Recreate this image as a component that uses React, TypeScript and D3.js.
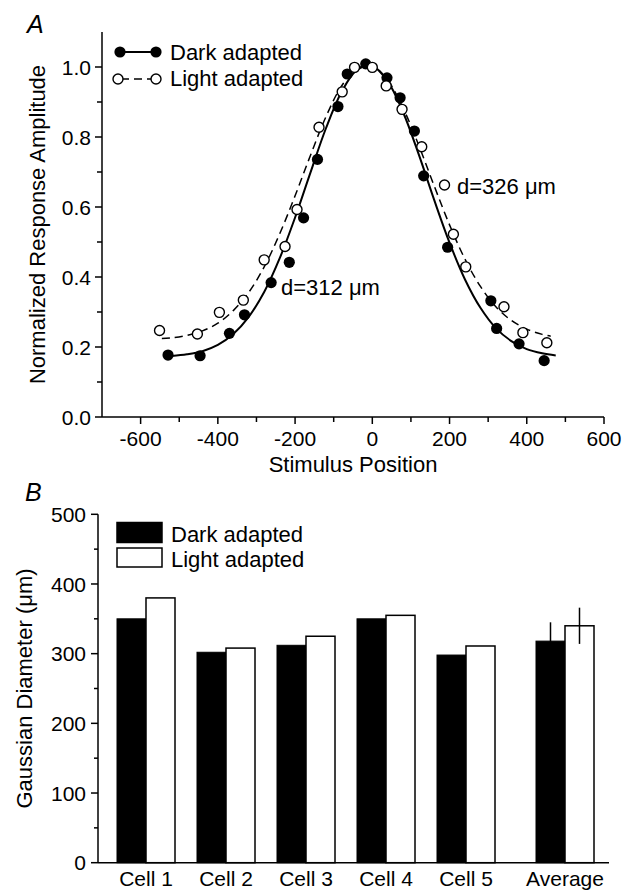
import React from 'react'
import * as d3 from 'd3'

// panel A: measured points
const darkX = [-529, -446, -370, -331, -262, -215, -178, -142, -89, -65, -17, 38, 72, 109, 133, 195, 307, 322, 380, 445]
const darkY = [0.177, 0.175, 0.239, 0.292, 0.384, 0.442, 0.569, 0.736, 0.887, 0.98, 1.009, 0.969, 0.912, 0.817, 0.689, 0.485, 0.332, 0.253, 0.209, 0.161]
const lightX = [-551, -453, -396, -334, -280, -226, -195, -138, -78, -46, 0, 36, 77, 128, 187, 210, 242, 341, 390, 452]
const lightY = [0.247, 0.237, 0.299, 0.334, 0.449, 0.487, 0.593, 0.828, 0.929, 0.999, 0.999, 0.946, 0.879, 0.772, 0.663, 0.522, 0.429, 0.315, 0.241, 0.212]

// panel A: fitted curves
const darkFitX = [-520, -480, -440, -400, -360, -320, -280, -240, -200, -160, -120, -80, -40, 0, 40, 80, 120, 160, 200, 240, 280, 320, 360, 400, 440, 475]
const darkFitY = [0.174, 0.179, 0.188, 0.206, 0.237, 0.286, 0.357, 0.453, 0.57, 0.699, 0.825, 0.928, 0.991, 1.003, 0.959, 0.87, 0.751, 0.621, 0.498, 0.393, 0.312, 0.254, 0.217, 0.194, 0.182, 0.176]
const lightFitX = [-545, -520, -480, -440, -400, -360, -320, -280, -240, -200, -160, -120, -80, -40, 0, 40, 80, 120, 160, 200, 240, 280, 320, 360, 400, 440, 462]
const lightFitY = [0.224, 0.226, 0.233, 0.246, 0.268, 0.304, 0.356, 0.429, 0.523, 0.632, 0.748, 0.858, 0.945, 0.996, 1.002, 0.962, 0.882, 0.777, 0.661, 0.549, 0.451, 0.373, 0.315, 0.276, 0.251, 0.236, 0.231]

const xTicksA = [-600, -400, -200, 0, 200, 400, 600]
const xMinorA = [-500, -300, -100, 100, 300, 500]
const yTicksA = [0, 0.2, 0.4, 0.6, 0.8, 1.0]
const yMinorA = [0.1, 0.3, 0.5, 0.7, 0.9]

// panel B
const cells = ['Cell 1', 'Cell 2', 'Cell 3', 'Cell 4', 'Cell 5', 'Average']
const darkDiam = [350, 302, 312, 350, 298, 318]
const lightDiam = [380, 308, 325, 355, 311, 340]
const darkErr = [0, 0, 0, 0, 0, 27]
const lightErr = [0, 0, 0, 0, 0, 26]
const yTicksB = [0, 100, 200, 300, 400, 500]
const yMinorB = [50, 150, 250, 350, 450]

const W = 633
const H = 891
const font = '"Liberation Sans", Arial, Helvetica, sans-serif'

const xA = d3.scaleLinear().domain([-700, 600]).range([102, 604])
const yA = d3.scaleLinear().domain([0, 1.1]).range([417, 32])

const xB = d3.scaleBand<string>().domain(cells).range([117, 575]).paddingInner(0.275).paddingOuter(0)
const yB = d3.scaleLinear().domain([0, 500]).range([862.7, 514.3])
// the average group sits a little apart from the single cells
const groupShift = (c: string) => (c === 'Average' ? 19 : 0)

const lineA = d3.line<[number, number]>().x(d => xA(d[0])).y(d => yA(d[1])).curve(d3.curveCatmullRom)

export default function App() {
  const darkPts = darkX.map((x, i) => [x, darkY[i]] as [number, number])
  const lightPts = lightX.map((x, i) => [x, lightY[i]] as [number, number])
  const darkFit = darkFitX.map((x, i) => [x, darkFitY[i]] as [number, number])
  const lightFit = lightFitX.map((x, i) => [x, lightFitY[i]] as [number, number])
  const r = 5.6
  const bw = xB.bandwidth() / 2

  return (
    <svg width={W} height={H} style={{ position: 'absolute', left: 0, top: 0, background: '#fff' }} fontFamily={font}>
      {/* ---------- panel A ---------- */}
      <text x={27} y={33} fontSize={25} fontStyle="italic">A</text>
      <g stroke="#000" strokeWidth={1.5}>
        <line x1={xA(-700)} x2={xA(-700)} y1={yA(0)} y2={yA(1.1)} />
        <line x1={xA(-700)} x2={xA(600)} y1={yA(0)} y2={yA(0)} />
        {yTicksA.map(t => <line key={t} x1={xA(-700) - 7} x2={xA(-700)} y1={yA(t)} y2={yA(t)} />)}
        {yMinorA.map(t => <line key={t} x1={xA(-700) - 5} x2={xA(-700)} y1={yA(t)} y2={yA(t)} />)}
        {xTicksA.map(t => <line key={t} x1={xA(t)} x2={xA(t)} y1={yA(0)} y2={yA(0) + 7} />)}
        {xMinorA.map(t => <line key={t} x1={xA(t)} x2={xA(t)} y1={yA(0)} y2={yA(0) + 5} />)}
      </g>
      {yTicksA.map(t => (
        <text key={t} x={xA(-700) - 11} y={yA(t)} dy="0.36em" textAnchor="end" fontSize={21}>{d3.format('.1f')(t)}</text>
      ))}
      {xTicksA.map(t => (
        <text key={t} x={xA(t)} y={446} textAnchor="middle" fontSize={21}>{t}</text>
      ))}
      <text x={(xA(-700) + xA(600)) / 2} y={472} textAnchor="middle" fontSize={22}>Stimulus Position</text>
      <text transform={`translate(45,${(yA(0) + yA(1.1)) / 2}) rotate(-90)`} textAnchor="middle" fontSize={22}>Normalized Response Amplitude</text>

      <path d={lineA(darkFit) || ''} fill="none" stroke="#000" strokeWidth={2} />
      <path d={lineA(lightFit) || ''} fill="none" stroke="#000" strokeWidth={1.5} strokeDasharray="8,5" />
      {darkPts.map((d, i) => <circle key={'d' + i} cx={xA(d[0])} cy={yA(d[1])} r={r} fill="#000" />)}
      {lightPts.map((d, i) => <circle key={'l' + i} cx={xA(d[0])} cy={yA(d[1])} r={r - 0.6} fill="#fff" stroke="#000" strokeWidth={1.4} />)}

      <text x={281} y={295} fontSize={22}>d=312 μm</text>
      <text x={457} y={194} fontSize={22}>d=326 μm</text>

      {/* legend A */}
      <line x1={120} x2={156} y1={52} y2={52} stroke="#000" strokeWidth={2} />
      <circle cx={120} cy={52} r={r} fill="#000" />
      <circle cx={156} cy={52} r={r} fill="#000" />
      <text x={170} y={60} fontSize={22}>Dark adapted</text>
      <line x1={118} x2={156} y1={79} y2={79} stroke="#000" strokeWidth={1.5} strokeDasharray="8,5" strokeDashoffset={-3} />
      <circle cx={118} cy={79} r={r - 0.6} fill="#fff" stroke="#000" strokeWidth={1.4} />
      <circle cx={156} cy={79} r={r - 0.6} fill="#fff" stroke="#000" strokeWidth={1.4} />
      <text x={170} y={86} fontSize={22}>Light adapted</text>

      {/* ---------- panel B ---------- */}
      <text x={25} y={501} fontSize={25} fontStyle="italic">B</text>
      {cells.map((c, i) => {
        const x0 = (xB(c) as number) + groupShift(c)
        return (
          <g key={c}>
            <rect x={x0} y={yB(darkDiam[i])} width={bw} height={yB(0) - yB(darkDiam[i])} fill="#000" stroke="#000" strokeWidth={1} />
            <rect x={x0 + bw} y={yB(lightDiam[i])} width={bw} height={yB(0) - yB(lightDiam[i])} fill="#fff" stroke="#000" strokeWidth={1.5} />
            {darkErr[i] > 0 && (
              <line x1={x0 + bw / 2} x2={x0 + bw / 2} y1={yB(darkDiam[i] + darkErr[i])} y2={yB(darkDiam[i] - darkErr[i])} stroke="#000" strokeWidth={1.5} />
            )}
            {lightErr[i] > 0 && (
              <line x1={x0 + bw * 1.5} x2={x0 + bw * 1.5} y1={yB(lightDiam[i] + lightErr[i])} y2={yB(lightDiam[i] - lightErr[i])} stroke="#000" strokeWidth={1.5} />
            )}
            <text x={x0 + bw} y={886} textAnchor="middle" fontSize={21}>{c}</text>
          </g>
        )
      })}
      <g stroke="#000" strokeWidth={1.5}>
        <line x1={98} x2={98} y1={yB(0)} y2={yB(500)} />
        <line x1={98} x2={609} y1={yB(0)} y2={yB(0)} />
        {yTicksB.map(t => <line key={t} x1={91} x2={98} y1={yB(t)} y2={yB(t)} />)}
        {yMinorB.map(t => <line key={t} x1={94} x2={98} y1={yB(t)} y2={yB(t)} />)}
      </g>
      {yTicksB.map(t => (
        <text key={t} x={86} y={yB(t)} dy="0.36em" textAnchor="end" fontSize={21}>{t}</text>
      ))}
      <text transform={`translate(32,${(yB(0) + yB(500)) / 2}) rotate(-90)`} textAnchor="middle" fontSize={22}>Gaussian Diameter (μm)</text>

      {/* legend B */}
      <rect x={117} y={522.5} width={45} height={20} fill="#000" stroke="#000" strokeWidth={1.5} />
      <text x={171} y={541.5} fontSize={22}>Dark adapted</text>
      <rect x={117} y={548} width={45} height={19} fill="#fff" stroke="#000" strokeWidth={1.5} />
      <text x={171} y={566.5} fontSize={22}>Light adapted</text>
    </svg>
  )
}
